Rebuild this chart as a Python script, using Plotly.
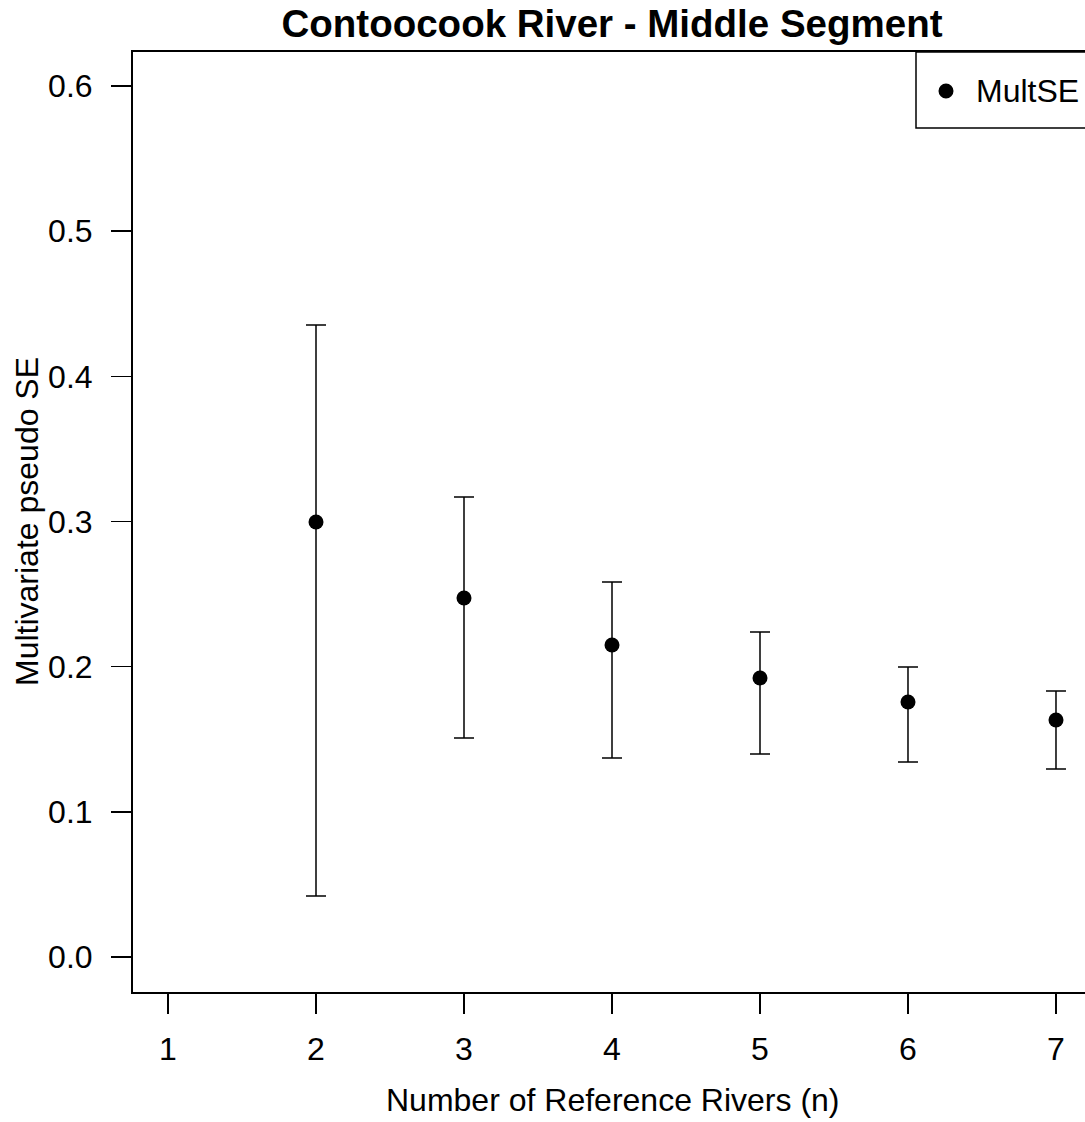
import plotly.graph_objects as go

n_rivers = [2, 3, 4, 5, 6, 7]
mult_se = [0.2997, 0.2473, 0.2149, 0.1922, 0.1757, 0.1633]
upper = [0.4354, 0.3169, 0.2583, 0.2239, 0.1998, 0.1832]
lower = [0.0420, 0.1509, 0.1371, 0.1398, 0.1343, 0.1295]

x_ticks = [1, 2, 3, 4, 5, 6, 7]
y_ticks = [0.0, 0.1, 0.2, 0.3, 0.4, 0.5, 0.6]
y_tick_labels = ["0.0", "0.1", "0.2", "0.3", "0.4", "0.5", "0.6"]

err_plus = [u - m for u, m in zip(upper, mult_se)]
err_minus = [m - l for m, l in zip(mult_se, lower)]

FONT = "Liberation Sans, Arial, sans-serif"

W, H = 1085, 1122
ML, MT, MB = 133, 52, 130
PW = W - ML          # 952
PH = H - MT - MB     # 940

def px_x(vx):  # pixel x -> paper
    return (vx - ML) / PW

def px_y(vy):  # pixel y -> paper
    return (H - MB - vy) / PH

fig = go.Figure()
fig.add_trace(go.Scatter(
    x=n_rivers, y=mult_se, mode="markers", name="MultSE",
    marker=dict(color="black", size=15, symbol="circle"),
    error_y=dict(type="data", symmetric=False, array=err_plus, arrayminus=err_minus,
                 color="black", thickness=1.5, width=10),
    showlegend=False,
))

# legend box (manual, R style, running off the right edge)
shapes = [
    dict(type="rect", xref="paper", yref="paper",
         x0=px_x(916), x1=px_x(1100), y0=px_y(128), y1=px_y(52),
         line=dict(color="black", width=1.5), fillcolor="white", layer="above"),
    dict(type="circle", xref="paper", yref="paper",
         x0=px_x(946 - 7.5), x1=px_x(946 + 7.5), y0=px_y(91 + 7.5), y1=px_y(91 - 7.5),
         line=dict(color="black", width=0), fillcolor="black", layer="above"),
]

annotations = [
    dict(text="MultSE", xref="paper", yref="paper", x=px_x(974), y=px_y(91),
         xanchor="left", yanchor="middle", showarrow=False,
         font=dict(size=32, family=FONT, color="black")),
    dict(text="Number of Reference Rivers (n)", xref="paper", yref="paper",
         x=px_x(612), y=px_y(1100), xanchor="center", yanchor="middle", showarrow=False,
         font=dict(size=32, family=FONT, color="black")),
    dict(text="Multivariate pseudo SE", xref="paper", yref="paper",
         x=px_x(27), y=px_y(522), xanchor="center", yanchor="middle", showarrow=False,
         textangle=-90, font=dict(size=32, family=FONT, color="black")),
]

fig.update_layout(
    width=W, height=H,
    margin=dict(l=ML, r=0, t=MT, b=MB),
    plot_bgcolor="white", paper_bgcolor="white",
    font=dict(family=FONT, color="black", size=32),
    title=dict(text="<b>Contoocook River - Middle Segment</b>", x=px_x(612), xref="paper",
               xanchor="center", y=1 - 24 / H, yref="container", yanchor="middle",
               font=dict(size=38.5, family=FONT, color="black")),
    shapes=shapes,
    annotations=annotations,
    showlegend=False,
)
fig.update_xaxes(
    range=[0.7635, 7.196], tickmode="array", tickvals=x_ticks,
    ticks="outside", ticklen=20, tickwidth=1.5, tickcolor="black",
    showline=True, linecolor="black", linewidth=2, mirror=True,
    showgrid=False, zeroline=False,
    tickfont=dict(size=32, family=FONT),
    ticklabelstandoff=8,
)
fig.update_yaxes(
    range=[-0.0241, 0.6234], tickmode="array", tickvals=y_ticks, ticktext=y_tick_labels,
    ticks="outside", ticklen=20, tickwidth=1.5, tickcolor="black",
    showline=True, linecolor="black", linewidth=2, mirror=False,
    showgrid=False, zeroline=False,
    tickfont=dict(size=32, family=FONT),
    ticklabelstandoff=12,
)

fig.write_html(
    "out.html",
    config={"displayModeBar": False, "staticPlot": True},
    post_script="document.body.style.margin='0';document.body.style.overflow='hidden';",
)
